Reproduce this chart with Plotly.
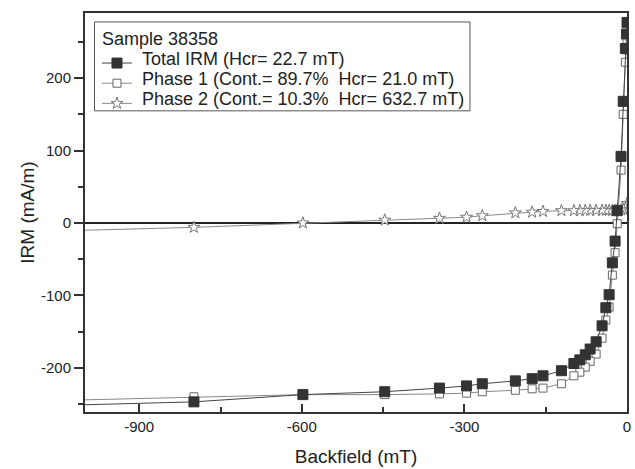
import plotly.graph_objects as go

# Backfield steps (mT)
field = [0, -1, -3, -7, -11, -18, -22, -27, -33, -39, -46, -57, -68, -77, -87, -98,
         -121, -155, -175, -206, -267, -296, -346, -447, -598, -799, -1100]
# Total IRM (mA/m)
total_irm = [277, 261, 241, 168, 92, 17, -25, -55, -99, -117, -142, -164, -174, -182, -189, -194,
             -204, -211, -215, -218, -222, -225, -228, -233, -237, -247, -253]
# Phase 1 (mA/m)
phase1 = [250, 239, 222, 150, 73, -1, -41, -72, -116, -134, -159, -181, -191, -199, -206, -211,
          -222, -228, -229, -231, -233, -235, -236, -237, -237, -240, -246]
# Phase 2 (mA/m)
phase2 = [27, 22, 20, 19, 18, 18, 17.5, 17.5, 17.5, 17.5, 17.5, 17.5, 17.5, 17.5, 17, 17,
          17, 16, 15, 14, 10, 8, 6.5, 4, 0, -6, -12]

names = ["Total IRM (Hcr= 22.7 mT)",
         "Phase 1 (Cont.= 89.7%\u00a0 Hcr= 21.0 mT)",
         "Phase 2 (Cont.= 10.3%\u00a0 Hcr= 632.7 mT)"]
legend_title = "Sample 38358"

x_tickvals = [-900, -600, -300, 0]
x_ticktext = ["-900", "-600", "-300", "0"]
y_tickvals = [-200, -100, 0, 100, 200]
y_ticktext = ["-200", "-100", "0", "100", "200"]

styles = [
    dict(line=dict(color="#444444", width=1),
         marker=dict(symbol="square", size=10, color="#333333", line=dict(color="#333333", width=1))),
    dict(line=dict(color="#888888", width=1),
         marker=dict(symbol="square", size=8, color="white", line=dict(color="#666666", width=1))),
    dict(line=dict(color="#888888", width=1),
         marker=dict(symbol="star", size=9, color="white", line=dict(color="#777777", width=1))),
]
series = [total_irm, phase1, phase2]

fig = go.Figure()
# draw Phase 2 first and Total last (Total on top); legend order reversed back
for yvals, st, nm in reversed(list(zip(series, styles, names))):
    # legend shows only the symbol; the label is written as an annotation beside it
    fig.add_trace(go.Scatter(x=field, y=yvals, name="\u00a0", mode="lines+markers",
                             hovertext=nm, **st))

# legend frame (behind everything)
fig.add_shape(type="rect", xref="paper", yref="paper",
              x0=0.0175, x1=0.7103, y0=0.7548, y1=0.9775,
              line=dict(color="#555555", width=1), fillcolor="white", layer="below")

font_family = "Liberation Sans, Arial, sans-serif"
txt_color = "#222222"
fig.add_annotation(xref="paper", yref="paper", x=0.0277, y=0.9350, text=legend_title,
                   showarrow=False, xanchor="left", yanchor="middle",
                   font=dict(size=18, color=txt_color, family=font_family))
for nm, yy in zip(names, [0.8857, 0.8349, 0.7848]):
    fig.add_annotation(xref="paper", yref="paper", x=0.1015, y=yy, text=nm,
                       showarrow=False, xanchor="left", yanchor="middle",
                       font=dict(size=18, color=txt_color, family=font_family))

fig.update_layout(
    width=635, height=469,
    margin=dict(l=85, r=8, t=13, b=57, autoexpand=False),
    paper_bgcolor="white", plot_bgcolor="rgba(0,0,0,0)",
    font=dict(family=font_family, color=txt_color, size=15),
    showlegend=True,
    legend=dict(
        x=0.0221, y=0.9124, xanchor="left", yanchor="top",
        bgcolor="rgba(0,0,0,0)", borderwidth=0,
        font=dict(size=13.2, color=txt_color),
        itemwidth=30, tracegroupgap=0, traceorder="reversed",
    ),
    xaxis=dict(
        range=[-1000, 0], tickvals=x_tickvals, ticktext=x_ticktext,
        ticks="inside", ticklen=8, tickwidth=1.5, tickcolor="#333333",
        minor=dict(dtick=150, tick0=-900, ticks="inside", ticklen=5, tickwidth=1.5, tickcolor="#333333"),
        showline=True, linecolor="#333333", linewidth=2, mirror=True,
        showgrid=False, zeroline=False, automargin=False,
        title=dict(text="Backfield (mT)", font=dict(size=19), standoff=16),
        tickfont=dict(size=15),
    ),
    yaxis=dict(
        range=[-261, 290], tickvals=y_tickvals, ticktext=y_ticktext,
        ticks="outside", ticklen=9, tickwidth=1.5, tickcolor="#333333",
        minor=dict(dtick=50, tick0=0, ticks="outside", ticklen=5, tickwidth=1.5, tickcolor="#333333"),
        showline=True, linecolor="#333333", linewidth=2, mirror=True,
        showgrid=False, zeroline=True, zerolinecolor="#222222", zerolinewidth=2,
        automargin=False,
        title=dict(text="IRM (mA/m)", font=dict(size=19), standoff=1),
        tickfont=dict(size=15),
    ),
)

fig.write_html(
    "out.html",
    config={"displayModeBar": False},
    post_script="document.body.style.margin='0px';document.documentElement.style.overflow='hidden';",
)
